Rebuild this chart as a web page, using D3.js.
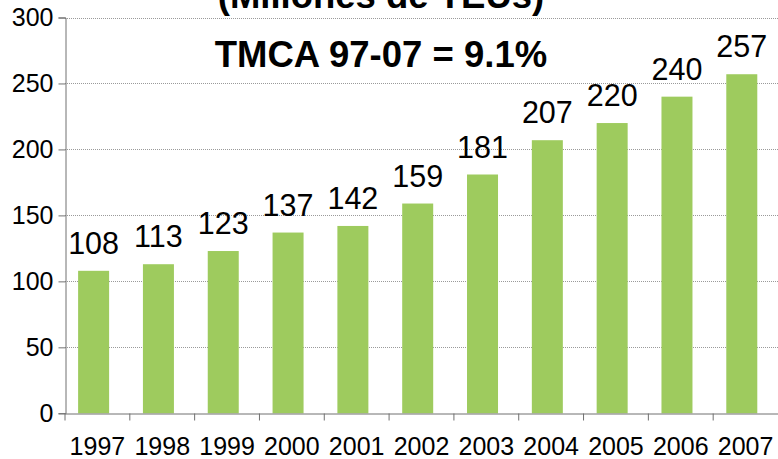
<!DOCTYPE html>
<html><head><meta charset="utf-8">
<script src="https://cdn.jsdelivr.net/npm/d3@7"></script>
<style>body{margin:0;background:#fff}svg{display:block}text{font-family:"Liberation Sans",Arial,sans-serif;fill:#000}</style>
</head><body>
<svg id="c" width="778" height="459"></svg>
<script>
const years = ["1997","1998","1999","2000","2001","2002","2003","2004","2005","2006","2007"];
const values = [108,113,123,137,142,159,181,207,220,240,257];
const yTicks = [0,50,100,150,200,250,300];
const titleText = "(Millones de TEUs)";
const subtitleText = "TMCA 97-07 = 9.1%";

const svg = d3.select("#c");
const x = d3.scaleBand().domain(years).range([65,778]);
const y = d3.scaleLinear().domain([0,300]).range([413.3,17.5]);
const barW = 31, off = -3.8;

// grid
svg.append("g").selectAll("line").data(yTicks.filter(t=>t>0)).join("line")
  .attr("x1",65).attr("x2",778).attr("y1",d=>Math.round(y(d))+0.5).attr("y2",d=>Math.round(y(d))+0.5)
  .attr("stroke","#9a9a9a").attr("stroke-width",1).attr("stroke-dasharray","1,1");

// bars
svg.append("g").selectAll("rect").data(values).join("rect")
  .attr("x",(d,i)=>x(years[i])+x.bandwidth()/2+off-barW/2)
  .attr("width",barW)
  .attr("y",d=>y(d)).attr("height",d=>y(0)-y(d))
  .attr("fill","#9ecb5e");

// value labels
svg.append("g").selectAll("text").data(values).join("text")
  .attr("x",(d,i)=>x(years[i])+x.bandwidth()/2+off)
  .attr("y",d=>y(d)-17)
  .attr("text-anchor","middle").attr("font-size",30.5).text(d=>d);

// y axis
const yAxis = svg.append("g").attr("transform","translate(65.5,0)")
  .call(d3.axisLeft(y).tickValues(yTicks).tickSize(7).tickPadding(5));
yAxis.select(".domain").attr("stroke","#707070");
yAxis.selectAll(".tick line").attr("stroke","#707070");
yAxis.selectAll("text").attr("font-size",25).attr("font-family","Liberation Sans, Arial, sans-serif").attr("fill","#000");

// x axis
const xAxis = svg.append("g").attr("transform",`translate(0,${Math.round(y(0))+0.5})`)
  .call(d3.axisBottom(x).tickSize(0).tickPadding(41));
xAxis.select(".domain").attr("stroke","#707070");
xAxis.selectAll("text").attr("font-size",25).attr("font-family","Liberation Sans, Arial, sans-serif").attr("fill","#000").attr("dy","0");
xAxis.selectAll(".tick").append("line")
  .attr("x1",-x.bandwidth()/2).attr("x2",-x.bandwidth()/2).attr("y1",0).attr("y2",7).attr("stroke","#707070");

// titles
svg.append("text").attr("x",381).attr("y",8).attr("text-anchor","middle")
  .attr("font-size",36.5).attr("font-weight","bold").text(titleText);
svg.append("text").attr("x",381).attr("y",67).attr("text-anchor","middle")
  .attr("font-size",36.5).attr("font-weight","bold").text(subtitleText);
</script>
</body></html>
